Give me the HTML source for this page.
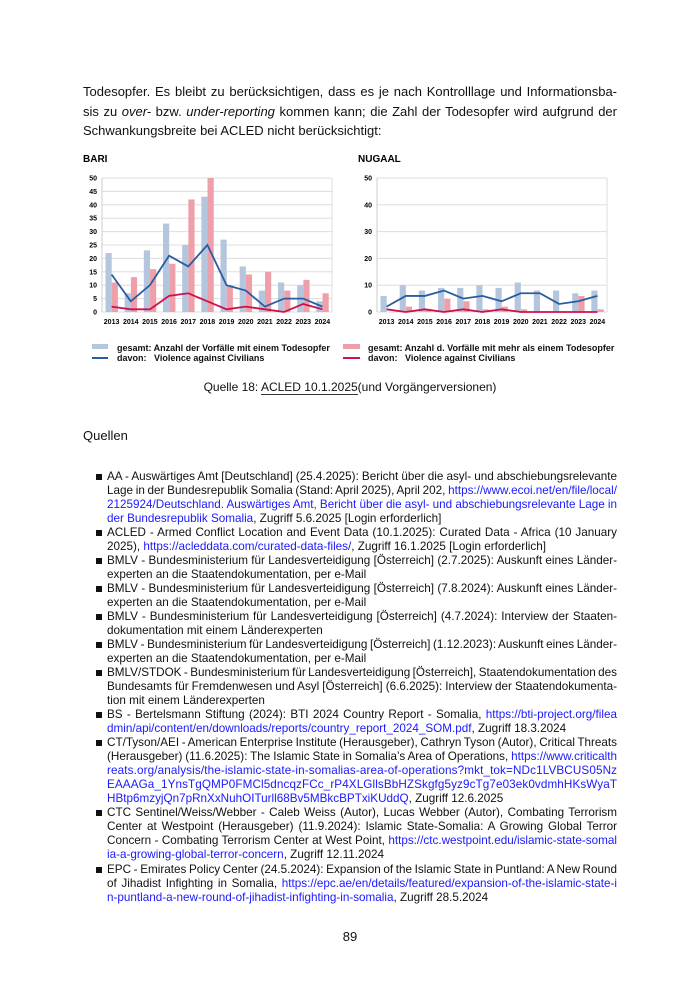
<!DOCTYPE html>
<html><head><meta charset="utf-8">
<style>
body{margin:0;background:#fff;font-family:"Liberation Sans",sans-serif;color:#111;}
#page{position:relative;width:700px;height:990px;overflow:hidden;}
.p{position:absolute;left:83px;width:534px;font-size:13px;line-height:19.5px;}
.p div{white-space:nowrap;}
.l{position:absolute;left:107px;font-size:11.7px;line-height:14px;white-space:nowrap;}
a{color:#1a1aff;text-decoration:none;}
.b{position:absolute;left:96px;width:6px;height:6px;background:#111;}
.lg{position:absolute;font-size:9px;font-weight:bold;line-height:10px;white-space:pre;}
</style></head><body><div id="page">
<div class="p" style="top:82px">
<div class="pj">Todesopfer. Es bleibt zu berücksichtigen, dass es je nach Kontrolllage und Informationsba-</div>
<div class="pj">sis zu <i>over-</i> bzw. <i>under-reporting</i> kommen kann; die Zahl der Todesopfer wird aufgrund der</div>
<div>Schwankungsbreite bei ACLED nicht berücksichtigt:</div>
</div>
<svg id="svg" width="700" height="340" style="position:absolute;left:0;top:0"></svg>
<div style="position:absolute;left:92px;top:344px;width:16px;height:5px;background:#b4c6de"></div>
<div style="position:absolute;left:92px;top:357px;width:16px;height:2px;background:#2a5d9f"></div>
<div class="lg" style="left:117px;top:343px">gesamt: Anzahl der Vorfälle mit einem Todesopfer
davon:   Violence against Civilians</div>
<div style="position:absolute;left:343px;top:344px;width:17px;height:5px;background:#eea0aa"></div>
<div style="position:absolute;left:343px;top:357px;width:17px;height:2px;background:#d0104a"></div>
<div class="lg" style="left:368px;top:343px">gesamt: Anzahl d. Vorfälle mit mehr als einem Todesopfer
davon:   Violence against Civilians</div>
<div style="position:absolute;left:0;width:700px;top:380px;text-align:center;font-size:12px">Quelle 18: <span style="border-bottom:1px solid #333">ACLED 10.1.2025</span>(und Vorgängerversionen)</div>
<div style="position:absolute;left:83px;top:428px;font-size:13px">Quellen</div>
<div id="list"></div>
<div style="position:absolute;left:0;width:700px;top:929px;text-align:center;font-size:13px">89</div>
</div>
<script>
var L=[
[477,1,'j','AA - Auswärtiges Amt [Deutschland] (25.4.2025): Bericht über die asyl- und abschiebungsrelevante'],
[491,0,'j','Lage in der Bundesrepublik Somalia (Stand: April 2025), April 202, <a>https://www.ecoi.net/en/file/local/</a>'],
[505,0,'j','<a>2125924/Deutschland. Auswärtiges Amt, Bericht über die asyl- und abschiebungsrelevante Lage in</a>'],
[519,0,'','<a>der Bundesrepublik Somalia</a>, Zugriff 5.6.2025 [Login erforderlich]'],
[533,1,'j','ACLED - Armed Conflict Location and Event Data (10.1.2025): Curated Data - Africa (10 January'],
[547,0,'','2025), <a>https://acleddata.com/curated-data-files/</a>, Zugriff 16.1.2025 [Login erforderlich]'],
[561,1,'j','BMLV - Bundesministerium für Landesverteidigung [Österreich] (2.7.2025): Auskunft eines Länder-'],
[575,0,'','experten an die Staatendokumentation, per e-Mail'],
[589,1,'j','BMLV - Bundesministerium für Landesverteidigung [Österreich] (7.8.2024): Auskunft eines Länder-'],
[603,0,'','experten an die Staatendokumentation, per e-Mail'],
[617,1,'j','BMLV - Bundesministerium für Landesverteidigung [Österreich] (4.7.2024): Interview der Staaten-'],
[631,0,'','dokumentation mit einem Länderexperten'],
[645,1,'j','BMLV - Bundesministerium für Landesverteidigung [Österreich] (1.12.2023): Auskunft eines Länder-'],
[659,0,'','experten an die Staatendokumentation, per e-Mail'],
[673,1,'j','BMLV/STDOK - Bundesministerium für Landesverteidigung [Österreich], Staatendokumentation des'],
[687,0,'j','Bundesamts für Fremdenwesen und Asyl [Österreich] (6.6.2025): Interview der Staatendokumenta-'],
[701,0,'','tion mit einem Länderexperten'],
[715,1,'j','BS - Bertelsmann Stiftung (2024): BTI 2024 Country Report - Somalia, <a>https://bti-project.org/filea</a>'],
[729,0,'','<a>dmin/api/content/en/downloads/reports/country_report_2024_SOM.pdf</a>, Zugriff 18.3.2024'],
[743,1,'j','CT/Tyson/AEI - American Enterprise Institute (Herausgeber), Cathryn Tyson (Autor), Critical Threats'],
[757,0,'j','(Herausgeber) (11.6.2025): The Islamic State in Somalia’s Area of Operations, <a>https://www.criticalth</a>'],
[771,0,'j','<a>reats.org/analysis/the-islamic-state-in-somalias-area-of-operations?mkt_tok=NDc1LVBCUS05Nz</a>'],
[785,0,'j','<a>EAAAGa_1YnsTgQMP0FMCl5dncqzFCc_rP4XLGllsBbHZSkgfg5yz9cTg7e03ek0vdmhHKsWyaT</a>'],
[799,0,'','<a>HBtp6mzyjQn7pRnXxNuhOITurll68Bv5MBkcBPTxiKUddQ</a>, Zugriff 12.6.2025'],
[813,1,'j','CTC Sentinel/Weiss/Webber - Caleb Weiss (Autor), Lucas Webber (Autor), Combating Terrorism'],
[827,0,'j','Center at Westpoint (Herausgeber) (11.9.2024): Islamic State-Somalia: A Growing Global Terror'],
[841,0,'j','Concern - Combating Terrorism Center at West Point, <a>https://ctc.westpoint.edu/islamic-state-somal</a>'],
[855,0,'','<a>ia-a-growing-global-terror-concern</a>, Zugriff 12.11.2024'],
[870,1,'j','EPC - Emirates Policy Center (24.5.2024): Expansion of the Islamic State in Puntland: A New Round'],
[884,0,'j','of Jihadist Infighting in Somalia, <a>https://epc.ae/en/details/featured/expansion-of-the-islamic-state-i</a>'],
[898,0,'','<a>n-puntland-a-new-round-of-jihadist-infighting-in-somalia</a>, Zugriff 28.5.2024']];
var h='';L.forEach(function(r){var t=r[0]-7;h+='<div class="l'+(r[2]?' j':'')+'" style="top:'+t+'px">'+r[3]+'</div>';if(r[1])h+='<div class="b" style="top:'+(r[0]-3)+'px"></div>';});
document.getElementById('list').innerHTML=h;
function fit(el,W){var w=el.getBoundingClientRect().width;var txt=el.textContent;var n=(txt.match(/ /g)||[]).length;
 if(n>0){el.style.wordSpacing=((W-w)/n)+'px';}else{el.style.letterSpacing=((W-w)/(txt.length-1))+'px';}}
document.querySelectorAll('.l.j').forEach(function(e){fit(e,510);});
document.querySelectorAll('.pj').forEach(function(e){e.style.display='inline-block';fit(e,534);e.style.display='block';});
document.querySelectorAll('.l:not(.j)').forEach(function(e){var w=e.getBoundingClientRect().width;if(w>510){e.style.letterSpacing=((510-w)/e.textContent.length)+'px';}});
function chart(x0,title,max,step,bb,pb,bl,rl){
 var s='',x1=x0+230,y0=312,yt=178,k=(y0-yt)/max,g=230/12;
 s+='<text x="'+(x0-19)+'" y="162" font-size="10" font-weight="bold">'+title+'</text>';
 for(var v=0;v<=max;v+=step){var y=y0-v*k;s+='<line x1="'+x0+'" x2="'+x1+'" y1="'+y+'" y2="'+y+'" stroke="#ddd" stroke-width="1"/>';
  s+='<text x="'+(x0-5)+'" y="'+(y+2.5)+'" font-size="7" font-weight="bold" text-anchor="end">'+v+'</text>';}
 s+='<line x1="'+x0+'" x2="'+x0+'" y1="'+yt+'" y2="'+y0+'" stroke="#ccc"/><line x1="'+x1+'" x2="'+x1+'" y1="'+yt+'" y2="'+y0+'" stroke="#ddd"/>';
 for(var i=0;i<12;i++){var gx=x0+i*g;
  s+='<rect x="'+(gx+3.5)+'" y="'+(y0-bb[i]*k)+'" width="6.2" height="'+bb[i]*k+'" fill="#b4c6de"/>';
  s+='<rect x="'+(gx+9.7)+'" y="'+(y0-pb[i]*k)+'" width="6.2" height="'+pb[i]*k+'" fill="#eea0aa"/>';
  s+='<text x="'+(gx+g/2)+'" y="324" font-size="7" font-weight="bold" text-anchor="middle">'+(2013+i)+'</text>';}
 function pl(d,c){return '<polyline fill="none" stroke="'+c+'" stroke-width="1.8" points="'+d.map(function(v,i){return (x0+i*g+g/2)+','+(y0-v*k)}).join(' ')+'"/>';}
 s+=pl(bl,'#2a5d9f')+pl(rl,'#d0104a');
 return s;}
document.getElementById('svg').innerHTML=
chart(102,'BARI',50,5,[22,7,23,33,25,43,27,17,8,11,10,4],[11,13,16,18,42,50,10,14,15,8,12,7],[14,4,10,21,17,25,10,8,2,5,5,2],[2,1,1,6,7,4,1,2,1,0,3,1])+
chart(377,'NUGAAL',50,10,[6,10,8,9,9,10,9,11,8,8,7,8],[0,2,1,5,4,1,2,1,0,0,6,1],[2,6,6,8,5,6,4,7,7,3,4,6],[1,0,1,0,1,0,1,0,0,0,0,0]);
</script>
</body></html>
